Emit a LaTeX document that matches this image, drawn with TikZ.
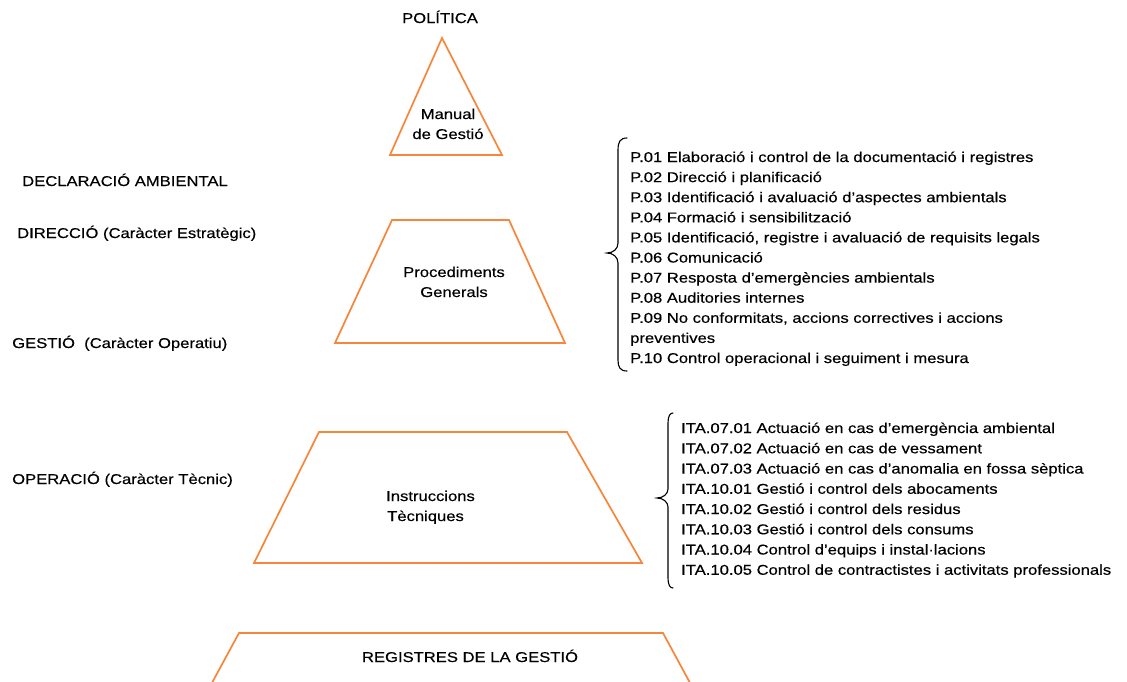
\documentclass[tikz,border=0pt]{standalone}
\usepackage{fontspec}
\setmainfont{Liberation Sans}[FakeStretch=1.17,FakeBold=0.35]
\definecolor{orng}{RGB}{247,134,58}
\newcommand\fsz{\fontsize{14.2}{17}\selectfont}
\tikzset{
  shapeline/.style={draw=orng, line width=1.7pt, line join=miter},
  bline/.style={draw=black, line width=1.1pt, line cap=round},
  lbl/.style={inner sep=0pt, anchor=base west, font=\fsz},
  ctr/.style={inner sep=0pt, anchor=base, font=\fsz}
}
\begin{document}
\begin{tikzpicture}[x=1pt,y=-1pt]
\useasboundingbox (0,0) rectangle (1127,681);
\fill[white] (0,0) rectangle (1127,681);
% pyramid shapes
\draw[shapeline] (442,38) -- (502,155) -- (390,155) -- cycle;
\draw[shapeline] (392,220) -- (509,220) -- (565,343) -- (335,343) -- cycle;
\draw[shapeline] (319,432) -- (567,432) -- (642,563) -- (254,563) -- cycle;
\begin{scope}
\clip (0,0) rectangle (1127,681);
\draw[shapeline] (202.7,700) -- (239,633) -- (663,633) -- (699.3,700);
\end{scope}
% texts in shapes
\node[ctr] (pol) at (440,23) {POLÍTICA};
\node[ctr] (man1) at (448,119) {Manual};
\node[ctr] (man2) at (448,139) {de Gestió};
\node[ctr] (pg1) at (454,277) {Procediments};
\node[ctr] (pg2) at (454,297) {Generals};
\node[lbl] (it1) at (386,501) {Instruccions};
\node[lbl] (it2) at (387,521) {Tècniques};
\node[ctr] (reg) at (470,662) {REGISTRES DE LA GESTIÓ};
% left labels
\node[lbl] (decl) at (22,186) {DECLARACIÓ AMBIENTAL};
\node[lbl] (dir) at (17,238) {DIRECCIÓ (Caràcter Estratègic)};
\node[lbl] (ges) at (12,348) {GESTIÓ\ \ (Caràcter Operatiu)};
\node[lbl] (ope) at (12,484) {OPERACIÓ (Caràcter Tècnic)};
% braces
\draw[bline] (627,138) .. controls (620,138) and (618,142) .. (618,150) -- (618,243)
  .. controls (618,249) and (613,253) .. (607,253)
  .. controls (613,253) and (618,257) .. (618,263) -- (618,360)
  .. controls (618,367) and (620,371) .. (627,371);
\draw[bline] (673,413) .. controls (670,413) and (668,416) .. (668,423) -- (668,489)
  .. controls (668,494) and (663,498) .. (657,498)
  .. controls (663,498) and (668,502) .. (668,507) -- (668,578)
  .. controls (668,585) and (670,588) .. (673,588);
% procedure list
\foreach \t [count=\i] in {
  {P.01 Elaboració i control de la documentació i registres},
  {P.02 Direcció i planificació},
  {P.03 Identificació i avaluació d’aspectes ambientals},
  {P.04 Formació i sensibilització},
  {P.05 Identificació, registre i avaluació de requisits legals},
  {P.06 Comunicació},
  {P.07 Resposta d'emergències ambientals},
  {P.08 Auditories internes},
  {P.09 No conformitats, accions correctives i accions},
  {preventives},
  {P.10 Control operacional i seguiment i mesura}}
  \node[lbl] (p\i) at (630,{162+(\i-1)*20.1}) {\t};
% instruction list
\foreach \t [count=\i] in {
  {ITA.07.01 Actuació en cas d’emergència ambiental},
  {ITA.07.02 Actuació en cas de vessament},
  {ITA.07.03 Actuació en cas d’anomalia en fossa sèptica},
  {ITA.10.01 Gestió i control dels abocaments},
  {ITA.10.02 Gestió i control dels residus},
  {ITA.10.03 Gestió i control dels consums},
  {ITA.10.04 Control d’equips i instal·lacions},
  {ITA.10.05 Control de contractistes i activitats professionals}}
  \node[lbl] (i\i) at (681,{433+(\i-1)*20.25}) {\t};
\end{tikzpicture}
\end{document}
